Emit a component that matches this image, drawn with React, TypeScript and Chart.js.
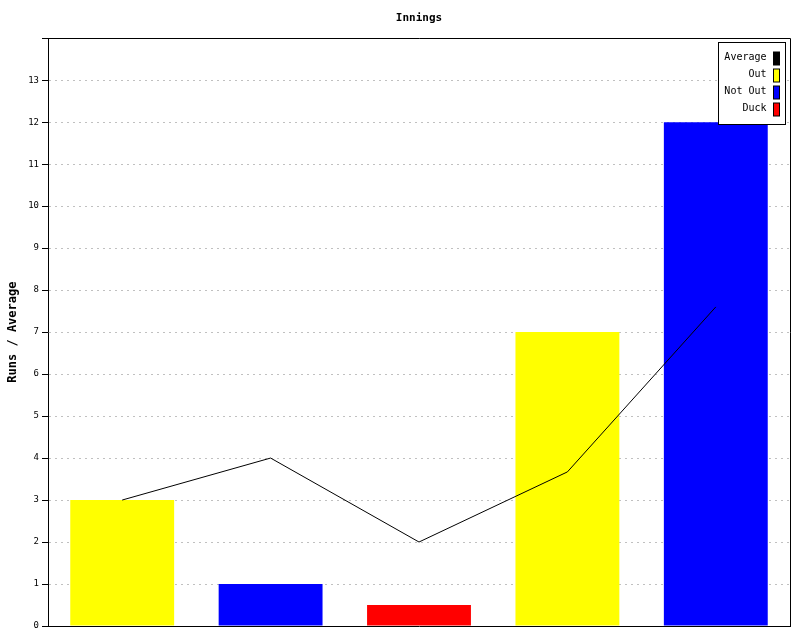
import React, { useEffect, useRef } from "react";
import { Chart, registerables } from "chart.js";

Chart.register(...registerables);

const categories = ["1", "2", "3", "4", "5"];
const averageValues = [3, 4, 2, 3.67, 7.6];
const outValues = [3, null, null, 7, null];
const notOutValues = [null, 1, null, null, 12];
const duckValues = [null, null, 0.5, null, null];
const legendColors = ["#000000", "#ffff00", "#0000ff", "#ff0000"];

const FONT = "'DejaVu Sans Mono', monospace";

const frameAndLegend = {
  id: "frameAndLegend",
  afterDatasetsDraw(chart: any) {
    const { ctx, chartArea } = chart;
    const { left, top, right, bottom } = chartArea;
    ctx.save();
    ctx.strokeStyle = "#000";
    ctx.lineWidth = 1;
    ctx.beginPath();
    ctx.moveTo(left, Math.round(top) + 0.5);
    ctx.lineTo(Math.round(right) + 0.5, Math.round(top) + 0.5);
    ctx.lineTo(Math.round(right) + 0.5, bottom);
    ctx.stroke();

    // legend
    const bx = Math.round(right) - 72 + 0.5;
    const by = Math.round(top) + 4 + 0.5;
    const bw = 67;
    const bh = 82;
    ctx.fillStyle = "#fff";
    ctx.fillRect(bx, by, bw, bh);
    ctx.strokeRect(bx, by, bw, bh);
    ctx.font = `10px ${FONT}`;
    ctx.textAlign = "right";
    ctx.textBaseline = "middle";
    chart.data.datasets.forEach((ds: any, i: number) => {
      const cy = by + 15 + i * 17;
      ctx.fillStyle = "#000";
      ctx.fillText(ds.label, bx + 48, cy);
      ctx.fillStyle = legendColors[i];
      ctx.fillRect(bx + 55, Math.round(cy - 6), 6, 13);
      ctx.strokeStyle = "#000";
      ctx.strokeRect(bx + 55, Math.round(cy - 6), 6, 13);
    });
    ctx.restore();
  },
};

export default function App() {
  const ref = useRef<HTMLCanvasElement>(null);
  useEffect(() => {
    const chart = new Chart(ref.current!, {
      type: "bar",
      data: {
        labels: categories,
        datasets: [
          {
            type: "line",
            label: "Average",
            data: averageValues,
            borderColor: "#000",
            borderWidth: 1,
            pointRadius: 0,
            tension: 0,
            order: 0,
          } as any,
          {
            label: "Out",
            data: outValues,
            backgroundColor: legendColors[1],
            order: 1,
          },
          {
            label: "Not Out",
            data: notOutValues,
            backgroundColor: legendColors[2],
            order: 1,
          },
          {
            label: "Duck",
            data: duckValues,
            backgroundColor: legendColors[3],
            order: 1,
          },
        ],
      },
      options: {
        responsive: false,
        animation: false,
        devicePixelRatio: 1,
        layout: { padding: { left: 0, right: 10, top: 0, bottom: 6 } },
        datasets: {
          bar: {
            grouped: false,
            barPercentage: 0.7,
            categoryPercentage: 1,
          },
        },
        plugins: {
          legend: { display: false },
          tooltip: { enabled: false },
          title: {
            display: true,
            text: "Innings",
            fullSize: false,
            color: "#000",
            font: { family: FONT, size: 11, weight: "bold" },
            padding: { top: 12, bottom: 13 },
          },
        },
        scales: {
          x: {
            grid: { display: false },
            ticks: { display: false },
            border: { color: "#000", width: 1 },
          },
          y: {
            min: 0,
            max: 14,
            afterFit(scale: any) {
              scale.width = 48;
            },
            ticks: {
              stepSize: 1,
              color: "#000",
              font: { family: FONT, size: 9 },
              padding: 3,
              callback: (v: any) => (v === 14 ? "" : String(v)),
            },
            grid: {
              color: "#c0c0c0",
              tickColor: "#000",
              tickLength: 6,
              tickBorderDash: [],
            },
            border: { color: "#000", width: 1, dash: [2, 4] },
            title: {
              display: true,
              text: "Runs / Average",
              color: "#000",
              font: { family: FONT, size: 12, weight: "bold" },
              padding: { top: 6, bottom: 0 },
            },
          },
        },
      },
      plugins: [frameAndLegend],
    });
    return () => chart.destroy();
  }, []);
  return (
    <div style={{ position: "fixed", left: 0, top: 0, width: 800, height: 640, background: "#fff" }}>
      <canvas ref={ref} width={800} height={640} />
    </div>
  );
}
